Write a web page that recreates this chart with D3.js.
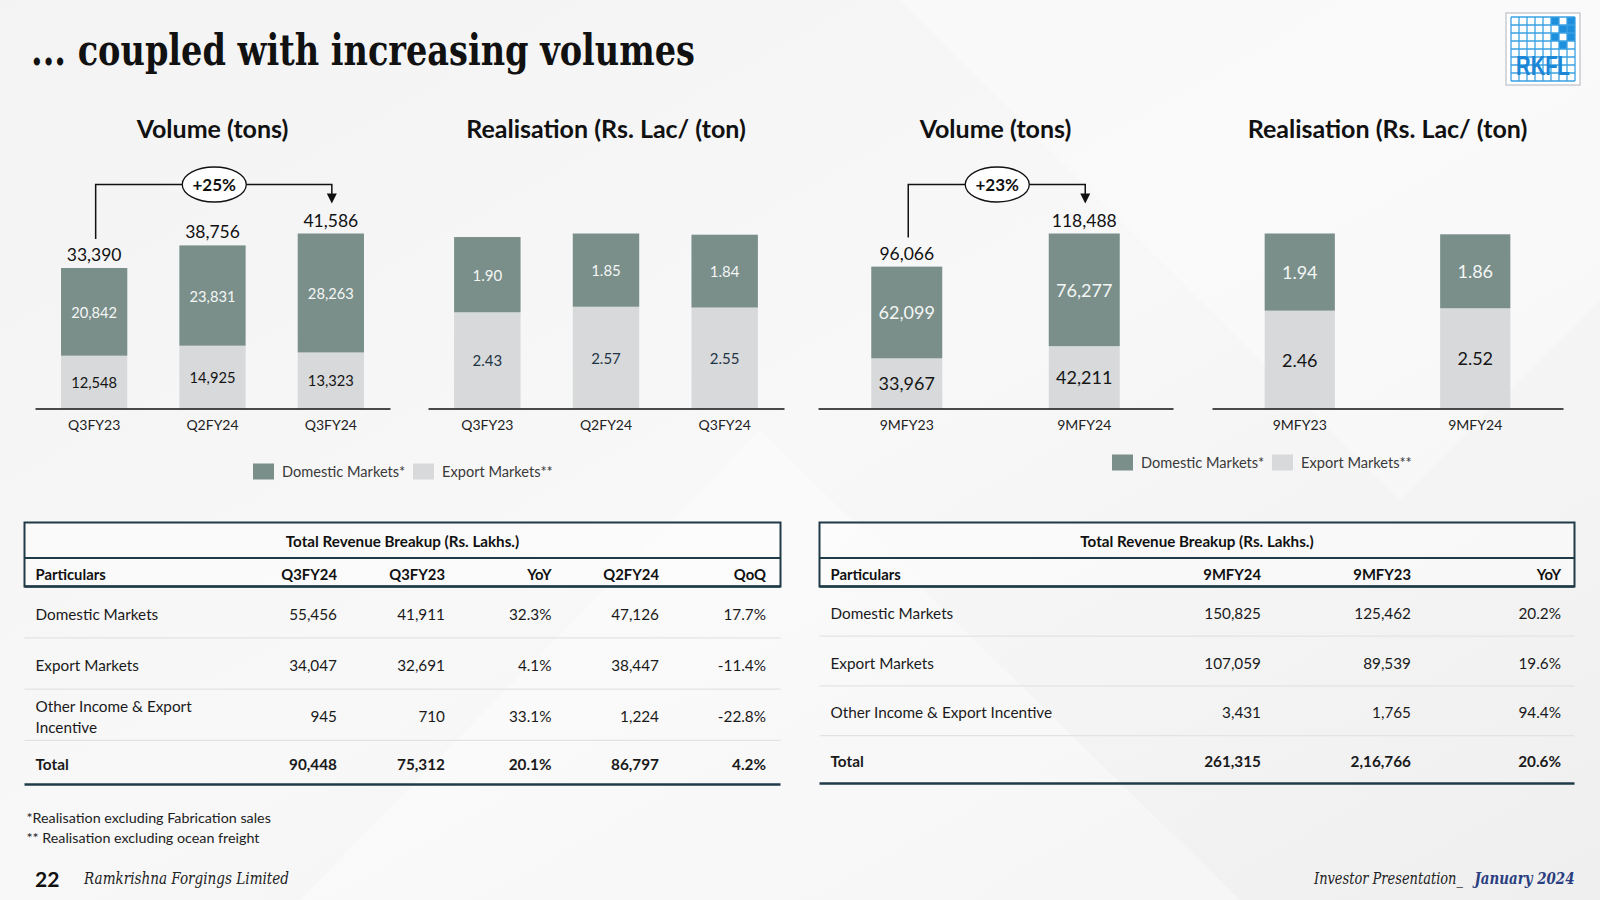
<!DOCTYPE html>
<html>
<head>
<meta charset="utf-8">
<script src="https://cdn.jsdelivr.net/npm/d3@7"></script>
<style>
  html, body { margin: 0; padding: 0; background: #f5f5f6; }
  svg { display: block; }
  text { font-family: Lato, "Open Sans", sans-serif; }
</style>
</head>
<body>
<svg id="slide" width="1600" height="900"></svg>
<script>
// ---------------- DATA ----------------
const qCategories = ["Q3FY23", "Q2FY24", "Q3FY24"];
const qVolDomestic = [20842, 23831, 28263];
const qVolExport = [12548, 14925, 13323];
const qVolTotal = [33390, 38756, 41586];
const qRealDomestic = [1.90, 1.85, 1.84];
const qRealExport = [2.43, 2.57, 2.55];

const nmCategories = ["9MFY23", "9MFY24"];
const nmVolDomestic = [62099, 76277];
const nmVolExport = [33967, 42211];
const nmVolTotal = [96066, 118488];
const nmRealDomestic = [1.94, 1.86];
const nmRealExport = [2.46, 2.52];

const qGrowth = "+25%";
const nmGrowth = "+23%";

const legendLabels = ["Domestic Markets*", "Export Markets**"];

const q3TableTitle = "Total Revenue Breakup (Rs. Lakhs.)";
const q3Header = ["Particulars", "Q3FY24", "Q3FY23", "YoY", "Q2FY24", "QoQ"];
const q3Rows = [
  [["Domestic Markets"], "55,456", "41,911", "32.3%", "47,126", "17.7%"],
  [["Export Markets"], "34,047", "32,691", "4.1%", "38,447", "-11.4%"],
  [["Other Income & Export", "Incentive"], "945", "710", "33.1%", "1,224", "-22.8%"],
  [["Total"], "90,448", "75,312", "20.1%", "86,797", "4.2%"]
];
const nmTableTitle = "Total Revenue Breakup (Rs. Lakhs.)";
const nmHeader = ["Particulars", "9MFY24", "9MFY23", "YoY"];
const nmRows = [
  [["Domestic Markets"], "150,825", "125,462", "20.2%"],
  [["Export Markets"], "107,059", "89,539", "19.6%"],
  [["Other Income & Export Incentive"], "3,431", "1,765", "94.4%"],
  [["Total"], "261,315", "2,16,766", "20.6%"]
];

const footnotes = ["*Realisation excluding Fabrication sales", "** Realisation excluding ocean freight"];

// ---------------- STYLE ----------------
const DOM = "#7a8f8a";
const EXP = "#d8d9db";
const LINE = "#1f3b47";

const svg = d3.select("#slide");

// background
const defs = svg.append("defs");
const bg = defs.append("linearGradient").attr("id", "bg").attr("x1", 0).attr("y1", 0).attr("x2", 1).attr("y2", 1);
bg.append("stop").attr("offset", "0%").attr("stop-color", "#f3f3f4");
bg.append("stop").attr("offset", "50%").attr("stop-color", "#f8f8f9");
bg.append("stop").attr("offset", "100%").attr("stop-color", "#efeff0");
svg.append("rect").attr("width", 1600).attr("height", 900).attr("fill", "url(#bg)");
svg.append("path").attr("d", "M300,900 L760,430 L1240,900 Z").attr("fill", "#ffffff").attr("opacity", 0.35);
svg.append("path").attr("d", "M900,0 L1400,500 L1600,300 L1600,0 Z").attr("fill", "#ffffff").attr("opacity", 0.3);

// title
svg.append("text")
  .attr("x", 31).attr("y", 65)
  .attr("textLength", 664).attr("lengthAdjust", "spacingAndGlyphs")
  .style("font-family", "'DejaVu Serif Condensed', 'DejaVu Serif', serif")
  .style("font-stretch", "condensed")
  .style("font-weight", "bold").style("font-size", "43px").attr("fill", "#111")
  .text("... coupled with increasing volumes");

// logo
(function drawLogo() {
  const g = svg.append("g").attr("transform", "translate(1506,13)");
  g.append("rect").attr("x", 0).attr("y", 0).attr("width", 74).attr("height", 72)
    .attr("fill", "#fff").attr("stroke", "#c9cbd0").attr("stroke-width", 1.5);
  const n = 8, cs = 8, ox = 5, oy = 4;
  const filled = [[0,5],[0,7],[1,6],[2,5],[2,7],[3,6],[1,7]];
  filled.forEach(([r, c]) => g.append("rect").attr("x", ox + c * cs).attr("y", oy + r * cs)
    .attr("width", cs).attr("height", cs).attr("fill", "#1e8fdc"));
  for (let i = 0; i <= n; i++) {
    g.append("line").attr("x1", ox + i * cs).attr("x2", ox + i * cs).attr("y1", oy).attr("y2", oy + n * cs)
      .attr("stroke", "#3aa0e4").attr("stroke-width", 1.3);
    g.append("line").attr("y1", oy + i * cs).attr("y2", oy + i * cs).attr("x1", ox).attr("x2", ox + n * cs)
      .attr("stroke", "#3aa0e4").attr("stroke-width", 1.3);
  }
  g.append("text").attr("x", 10).attr("y", 62).attr("textLength", 54).attr("lengthAdjust", "spacingAndGlyphs")
    .style("font-family", "'Liberation Sans Narrow','Liberation Sans',sans-serif")
    .style("font-weight", "bold").style("font-size", "28px").attr("fill", "#1b86d6")
    .text("RKFL");
})();

// ---------------- CHARTS ----------------
const BASE = 408.5, TOP = 233.5;
const charts = [
  { title: "Volume (tons)", cats: qCategories, dom: qVolDomestic, exp: qVolExport, totals: qVolTotal,
    x0: 35, x1: 390, fmt: d3.format(","), inner: 14.7, expColor: "#151515", totalSize: 17.5, growth: qGrowth },
  { title: "Realisation (Rs. Lac/ (ton)", cats: qCategories, dom: qRealDomestic, exp: qRealExport,
    x0: 428, x1: 784, fmt: d3.format(".2f"), inner: 15, expColor: "#1e3545" },
  { title: "Volume (tons)", cats: nmCategories, dom: nmVolDomestic, exp: nmVolExport, totals: nmVolTotal,
    x0: 818, x1: 1173, fmt: d3.format(","), inner: 18, expColor: "#151515", totalSize: 17.5, growth: nmGrowth },
  { title: "Realisation (Rs. Lac/ (ton)", cats: nmCategories, dom: nmRealDomestic, exp: nmRealExport,
    x0: 1212, x1: 1563, fmt: d3.format(".2f"), inner: 18, expColor: "#151515" }
];

charts.forEach(cfg => {
  const g = svg.append("g");
  const n = cfg.cats.length;
  const x = d3.scaleBand().domain(cfg.cats).range([cfg.x0, cfg.x1])
    .paddingInner(n === 3 ? 0.44 : 0.6).paddingOuter(n === 3 ? 0.22 : 0.3);
  const rows = cfg.cats.map((c, i) => ({ cat: c, exp: cfg.exp[i], dom: cfg.dom[i] }));
  const stack = d3.stack().keys(["exp", "dom"])(rows);
  const maxT = d3.max(rows, r => r.exp + r.dom);
  const y = d3.scaleLinear().domain([0, maxT]).range([BASE, TOP]);

  g.append("text").attr("x", (cfg.x0 + cfg.x1) / 2).attr("y", 128).attr("text-anchor", "middle")
    .attr("dominant-baseline", "central").style("font-weight", "bold").style("font-size", "25px")
    .attr("fill", "#111").text(cfg.title);

  stack.forEach(layer => {
    const color = layer.key === "dom" ? DOM : EXP;
    g.selectAll(null).data(layer).enter().append("rect")
      .attr("x", d => x(d.data.cat)).attr("width", x.bandwidth())
      .attr("y", d => y(d[1])).attr("height", d => y(d[0]) - y(d[1]))
      .attr("fill", color);
    g.selectAll(null).data(layer).enter().append("text")
      .attr("x", d => x(d.data.cat) + x.bandwidth() / 2)
      .attr("y", d => (y(d[0]) + y(d[1])) / 2)
      .attr("text-anchor", "middle").attr("dominant-baseline", "central")
      .style("font-size", cfg.inner + "px")
      .attr("fill", layer.key === "dom" ? "#f4f6f5" : cfg.expColor)
      .text(d => cfg.fmt(d.data[layer.key]));
  });

  const ax = g.append("g").attr("transform", `translate(0,${BASE})`)
    .call(d3.axisBottom(x).tickSize(0).tickSizeOuter(0).tickPadding(12));
  ax.select(".domain").attr("stroke", "#111").attr("stroke-width", 1.4);
  ax.selectAll(".tick text").style("font-size", "14px").style("font-family", "Lato, sans-serif").attr("fill", "#222");

  if (cfg.totals) {
    g.selectAll(null).data(cfg.totals).enter().append("text")
      .attr("x", (d, i) => x(cfg.cats[i]) + x.bandwidth() / 2)
      .attr("y", d => y(d) - 7)
      .attr("text-anchor", "middle").style("font-size", cfg.totalSize + "px").attr("fill", "#111")
      .text(d => d3.format(",")(d));

    const first = 0, last = n - 1;
    const xa = x(cfg.cats[first]) + x.bandwidth() / 2 + 1.5;
    const xb = x(cfg.cats[last]) + x.bandwidth() / 2 + 1;
    const ya = y(cfg.totals[first]) - 29;
    const yb = y(cfg.totals[last]) - 30;
    const yBr = 184.5;
    g.append("path").attr("d", `M${xa},${ya} V${yBr} H${xb} V${yb - 9}`)
      .attr("fill", "none").attr("stroke", "#111").attr("stroke-width", 1.5);
    g.append("path").attr("d", `M${xb - 5},${yb - 10} L${xb + 5},${yb - 10} L${xb},${yb} Z`).attr("fill", "#111");
    const cx = (xa + xb) / 2 + 0.5;
    g.append("ellipse").attr("cx", cx).attr("cy", 184.5).attr("rx", 32).attr("ry", 17.5)
      .attr("fill", "#fff").attr("stroke", "#111").attr("stroke-width", 1.3);
    g.append("text").attr("x", cx).attr("y", 184.5).attr("text-anchor", "middle")
      .attr("dominant-baseline", "central").style("font-weight", "bold").style("font-size", "17px")
      .attr("fill", "#111").text(cfg.growth);
  }
});

// legends
function drawLegend(items) {
  items.forEach(it => {
    svg.append("rect").attr("x", it.x).attr("y", it.y - 8).attr("width", 21).attr("height", 16).attr("fill", it.color);
    svg.append("text").attr("x", it.x + 29).attr("y", it.y).attr("dominant-baseline", "central")
      .style("font-size", "14.6px").attr("fill", "#3a3a3a").text(it.label);
  });
}
drawLegend([
  { x: 253, y: 471.5, color: DOM, label: legendLabels[0] },
  { x: 413, y: 471.5, color: EXP, label: legendLabels[1] },
  { x: 1112, y: 462.5, color: DOM, label: legendLabels[0] },
  { x: 1272, y: 462.5, color: EXP, label: legendLabels[1] }
]);

// ---------------- TABLES ----------------
function drawTable(cfg) {
  const g = svg.append("g");
  const { x0, x1, top, titleLine, headLine, rowHeights, colRight, header, rows, title } = cfg;
  g.append("rect").attr("x", x0).attr("y", top).attr("width", x1 - x0).attr("height", headLine - top)
    .attr("fill", "#fdfdfd").attr("fill-opacity", 0.5).attr("stroke", LINE).attr("stroke-width", 2);
  g.append("line").attr("x1", x0).attr("x2", x1).attr("y1", titleLine).attr("y2", titleLine)
    .attr("stroke", LINE).attr("stroke-width", 2);
  g.append("line").attr("x1", x0).attr("x2", x1).attr("y1", headLine).attr("y2", headLine)
    .attr("stroke", LINE).attr("stroke-width", 2.5);
  g.append("text").attr("x", (x0 + x1) / 2).attr("y", (top + titleLine) / 2 + 1).attr("text-anchor", "middle")
    .attr("dominant-baseline", "central").style("font-weight", "bold").style("font-size", "15.2px")
    .attr("fill", "#111").text(title);
  const hy = (titleLine + headLine) / 2 + 1.5;
  header.forEach((h, i) => {
    g.append("text").attr("x", i === 0 ? x0 + 11 : colRight[i - 1]).attr("y", hy)
      .attr("text-anchor", i === 0 ? "start" : "end").attr("dominant-baseline", "central")
      .style("font-weight", "bold").style("font-size", "14.8px").attr("fill", "#111").text(h);
  });
  let yy = headLine;
  rows.forEach((r, ri) => {
    const h = rowHeights[ri];
    const cy = yy + h / 2 + 1.5;
    const isTotal = ri === rows.length - 1;
    const lines = r[0];
    lines.forEach((t, li) => {
      g.append("text").attr("x", x0 + 11).attr("y", cy + (li - (lines.length - 1) / 2) * 20.5)
        .attr("dominant-baseline", "central").style("font-size", "15.3px")
        .style("font-weight", isTotal ? "bold" : "normal").attr("fill", "#1a1a1a").text(t);
    });
    r.slice(1).forEach((v, ci) => {
      g.append("text").attr("x", colRight[ci]).attr("y", cy).attr("text-anchor", "end")
        .attr("dominant-baseline", "central").style("font-size", "15.3px")
        .style("font-weight", isTotal ? "bold" : "normal").attr("fill", "#1a1a1a").text(v);
    });
    yy += h;
    if (!isTotal) {
      g.append("line").attr("x1", x0).attr("x2", x1).attr("y1", yy).attr("y2", yy)
        .attr("stroke", "#e2e3e5").attr("stroke-width", 1.2);
    }
  });
  g.append("line").attr("x1", x0).attr("x2", x1).attr("y1", yy).attr("y2", yy)
    .attr("stroke", LINE).attr("stroke-width", 2.5);
}

drawTable({
  x0: 24.5, x1: 780.5, top: 522.5, titleLine: 558, headLine: 586.5,
  rowHeights: [51.3, 51.3, 51.3, 44],
  colRight: [337, 445, 551.5, 659, 766],
  header: q3Header, rows: q3Rows, title: q3TableTitle
});
drawTable({
  x0: 819.5, x1: 1574.5, top: 522.5, titleLine: 558, headLine: 586.5,
  rowHeights: [49.7, 49.7, 49.7, 48],
  colRight: [1261, 1411, 1561],
  header: nmHeader, rows: nmRows, title: nmTableTitle
});

// ---------------- FOOTER ----------------
footnotes.forEach((t, i) => {
  svg.append("text").attr("x", 26.5).attr("y", 817.5 + i * 20.3).attr("dominant-baseline", "central")
    .style("font-size", "14.3px").attr("fill", "#222").text(t);
});
svg.append("text").attr("x", 35).attr("y", 878).attr("dominant-baseline", "central")
  .style("font-weight", "bold").style("font-size", "21px").attr("fill", "#111").text("22");
svg.append("text").attr("x", 84).attr("y", 878).attr("dominant-baseline", "central")
  .attr("textLength", 205).attr("lengthAdjust", "spacingAndGlyphs")
  .style("font-family", "'DejaVu Serif Condensed','DejaVu Serif',serif").style("font-stretch", "condensed")
  .style("font-style", "italic").style("font-size", "16px").attr("fill", "#222")
  .text("Ramkrishna  Forgings Limited");
svg.append("text").attr("x", 1314).attr("y", 878).attr("dominant-baseline", "central")
  .attr("textLength", 149).attr("lengthAdjust", "spacingAndGlyphs")
  .style("font-family", "'DejaVu Serif Condensed','DejaVu Serif',serif").style("font-stretch", "condensed")
  .style("font-style", "italic").style("font-size", "16px").attr("fill", "#222")
  .text("Investor  Presentation_");
svg.append("text").attr("x", 1474.5).attr("y", 878).attr("dominant-baseline", "central")
  .attr("textLength", 100).attr("lengthAdjust", "spacingAndGlyphs")
  .style("font-family", "'DejaVu Serif Condensed','DejaVu Serif',serif").style("font-stretch", "condensed")
  .style("font-style", "italic").style("font-weight", "bold").style("font-size", "16px").attr("fill", "#2b3f80")
  .text("January  2024");
</script>
</body>
</html>
